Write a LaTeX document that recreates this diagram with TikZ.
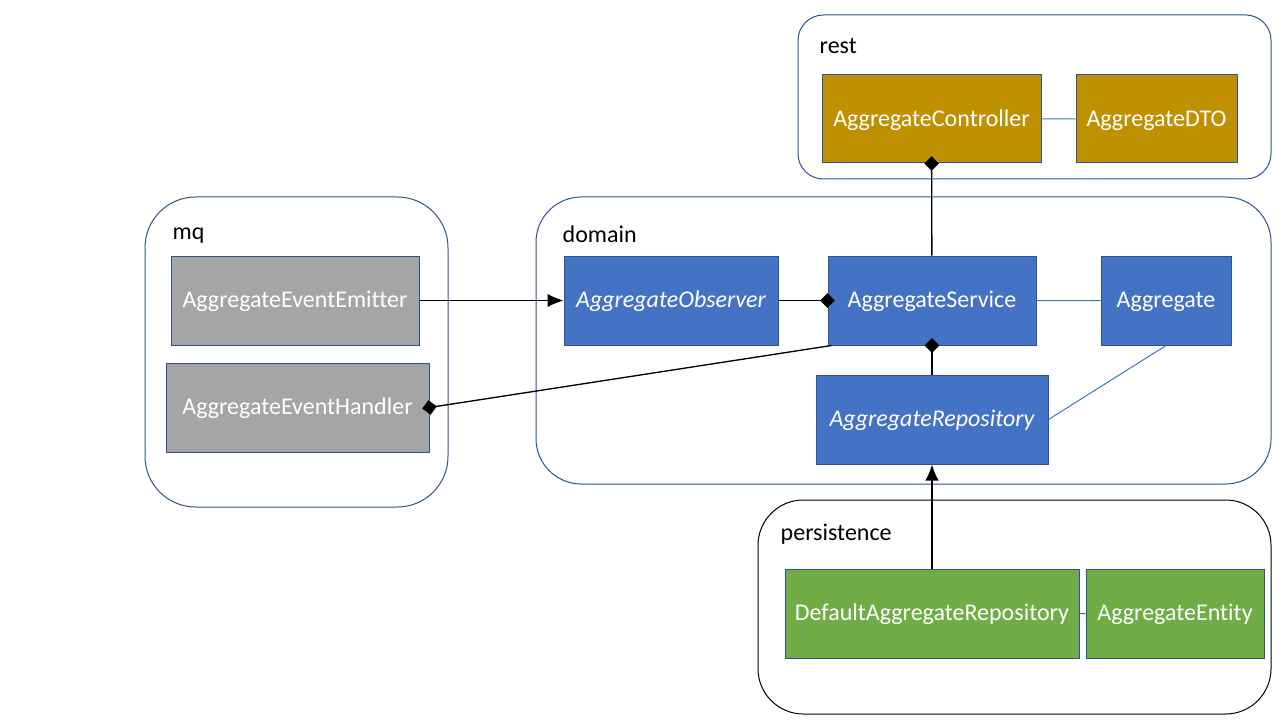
\documentclass[tikz,border=0pt]{standalone}
\usepackage{fontspec}
\setmainfont{Carlito}[Ligatures=NoCommon]
\usetikzlibrary{arrows.meta,positioning}
\definecolor{boxline}{HTML}{2F528F}
\definecolor{domblue}{HTML}{4472C4}
\definecolor{restgold}{HTML}{BF9000}
\definecolor{mqgray}{HTML}{A5A5A5}
\definecolor{persgreen}{HTML}{70AD47}

\begin{document}
\begin{tikzpicture}[x=0.75pt,y=-0.75pt,
    font=\fontsize{18}{21.6}\selectfont,
    box/.style={draw=boxline,line width=0.75pt,text=white,minimum height=66.75pt,inner sep=0pt,
      text height=15pt,text depth=4pt},
    group/.style={draw=boxline,line width=0.75pt},
    uses/.style={-{Latex[length=12pt,width=10pt]},line width=1pt},
    owns/.style={-{Diamond[length=11pt,width=11pt]},line width=1pt,shorten >=-5.5pt},
    link/.style={draw=domblue,line width=0.75pt}]
  \useasboundingbox (0,0) rectangle (1280,720);

  % packages
  \draw[group,rounded corners=19pt] (798,15) rectangle (1271,179);
  \draw[group,rounded corners=38pt] (145,197) rectangle (448,507);
  \draw[group,rounded corners=34pt] (536,197) rectangle (1271,484);
  \draw[line width=0.75pt,rounded corners=34pt] (758,500) rectangle (1271,714);
  \node[anchor=west] (restlbl) at (815,46) {rest};
  \node[anchor=west] (mqlbl) at (168,236) {mq};
  \node[anchor=west] (domlbl) at (558,234) {domain};
  \node[anchor=west] (perslbl) at (776,534) {persistence};

  % classes
  \node[box,fill=restgold,minimum width=164.25pt,minimum height=66pt] (ctrl) at (931.5,119) {AggregateController};
  \node[box,fill=restgold,minimum width=120.75pt,minimum height=66pt] (dto) at (1156.5,119) {AggregateDTO};
  \node[box,fill=mqgray,minimum width=186pt] (emitter) at (295,300.5) {AggregateEventEmitter};
  \node[box,fill=mqgray,minimum width=197.25pt] (handler) at (297.5,407.5) {AggregateEventHandler};
  \node[box,fill=domblue,minimum width=160.5pt] (observer) at (671,300.5) {\itshape AggregateObserver};
  \node[box,fill=domblue,minimum width=156pt] (service) at (932,300.5) {AggregateService};
  \node[box,fill=domblue,minimum width=97.5pt] (aggr) at (1166,300.5) {Aggregate};
  \node[box,fill=domblue,minimum width=174pt] (repo) at (932,419.5) {\itshape AggregateRepository};
  \node[box,fill=persgreen,minimum width=220.5pt] (defrepo) at (932,613.5) {DefaultAggregateRepository};
  \node[box,fill=persgreen,minimum width=133.5pt] (entity) at (1175,613.5) {AggregateEntity};

  \draw[uses] (emitter) -- (observer);
  \draw[uses] (defrepo) -- (repo);
  \draw[owns] (observer) -- (service);
  \draw[owns] (service) -- (ctrl);
  \draw[owns] (repo) -- (service);
  \draw[owns] ([xshift=3pt]service.south west) -- (handler.east);

  \path[link] (ctrl) -- (dto)
    (service) -- (aggr)
    (aggr.south) -- (repo.east)
    (defrepo) -- (entity);
\end{tikzpicture}
\end{document}
